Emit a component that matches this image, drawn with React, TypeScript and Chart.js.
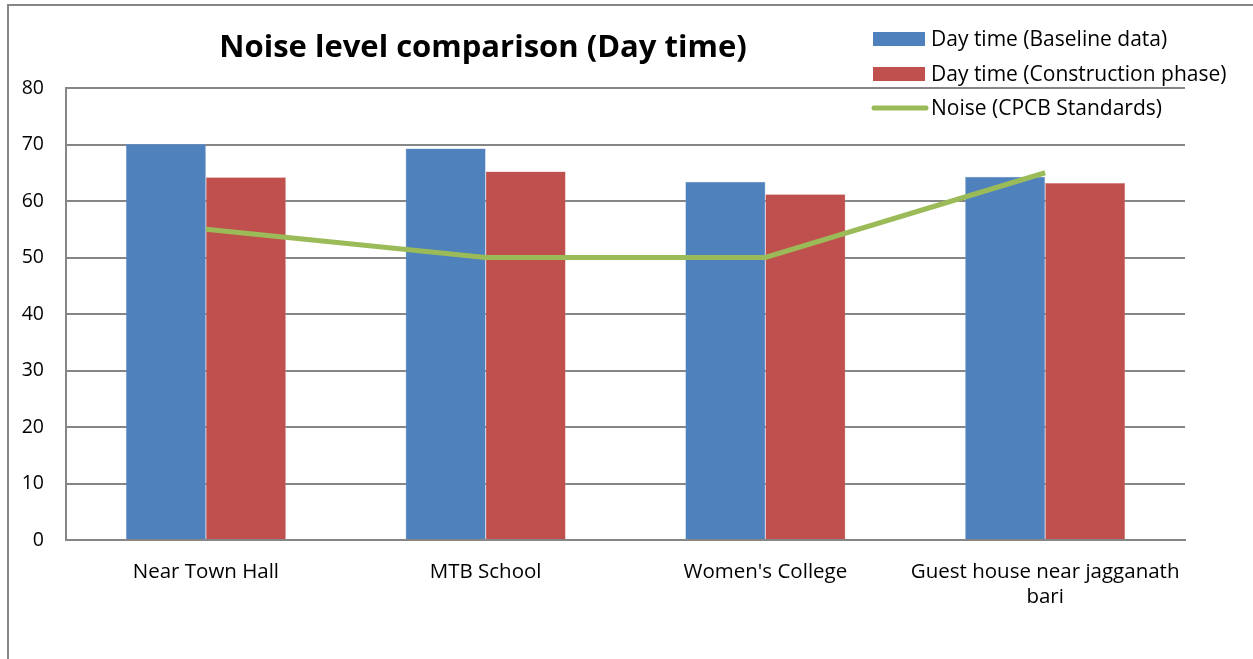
import React, { useEffect, useRef } from "react";
import { Chart, registerables } from "chart.js";

Chart.register(...registerables);

const categories: (string | string[])[] = [
  "Near Town Hall",
  "MTB School",
  "Women's College",
  ["Guest house near jagganath", "bari"],
];
const baseline = [70.1, 69.3, 63.4, 64.3];
const construction = [64.2, 65.2, 61.2, 63.2];
const cpcb = [55, 50, 50, 65];
const yTicks = [0, 10, 20, 30, 40, 50, 60, 70, 80];

const seriesNames = [
  "Day time (Baseline data)",
  "Day time (Construction phase)",
  "Noise (CPCB Standards)",
];
const titleText = "Noise level comparison (Day time)";

const BLUE = "#4F81BD";
const RED = "#C0504D";
const GREEN = "#9BBB59";
const GRID = "#868686";
const FONT = "'Open Sans', 'Noto Sans', sans-serif";

const overlayPlugin = {
  id: "overlay",
  afterDraw(chart: any) {
    const ctx = chart.ctx;
    const area = chart.chartArea;
    ctx.save();
    // title
    ctx.fillStyle = "#000";
    ctx.font = `bold 31px ${FONT}`;
    ctx.textAlign = "center";
    ctx.textBaseline = "middle";
    ctx.fillText(titleText, area.left + 417, 48);
    // legend
    const lx = area.right - 312;
    const rows = [39, 74, 108];
    ctx.font = `21px ${FONT}`;
    ctx.textAlign = "left";
    ctx.textBaseline = "middle";
    ctx.fillStyle = BLUE;
    ctx.fillRect(lx, rows[0] - 7, 52, 14);
    ctx.fillStyle = RED;
    ctx.fillRect(lx, rows[1] - 7, 52, 14);
    ctx.strokeStyle = GREEN;
    ctx.lineWidth = 5;
    ctx.lineCap = "round";
    ctx.beginPath();
    ctx.moveTo(lx + 1, rows[2]);
    ctx.lineTo(lx + 53, rows[2]);
    ctx.stroke();
    ctx.fillStyle = "#000";
    seriesNames.forEach((n, i) => ctx.fillText(n, lx + 58, rows[i] + 1));
    ctx.restore();
  },
};

export default function App() {
  const ref = useRef<HTMLCanvasElement | null>(null);
  useEffect(() => {
    if (!ref.current) return;
    const chart = new Chart(ref.current, {
      type: "bar",
      data: {
        labels: categories as any,
        datasets: [
          {
            type: "line",
            label: seriesNames[2],
            data: cpcb,
            borderColor: GREEN,
            backgroundColor: GREEN,
            borderWidth: 5,
            pointRadius: 0,
            tension: 0,
            order: 0,
          } as any,
          {
            label: seriesNames[0],
            data: baseline,
            backgroundColor: BLUE,
            borderColor: "#7FA3D1",
            borderWidth: 0.5,
            categoryPercentage: 0.572,
            barPercentage: 1,
            order: 1,
          },
          {
            label: seriesNames[1],
            data: construction,
            backgroundColor: RED,
            borderColor: "#D98A88",
            borderWidth: 0.5,
            categoryPercentage: 0.572,
            barPercentage: 1,
            order: 2,
          },
        ],
      },
      options: {
        animation: false,
        responsive: false,
        maintainAspectRatio: false,
        layout: { padding: { left: 0, right: 68, top: 88, bottom: 0 } },
        plugins: {
          legend: { display: false },
          title: { display: false },
          tooltip: { enabled: false },
        },
        scales: {
          x: {
            grid: { display: false, drawTicks: false },
            border: { display: true, color: GRID, width: 2 },
            ticks: {
              color: "#000",
              font: { family: FONT, size: 20.5, lineHeight: 1.22 },
              padding: 20,
              maxRotation: 0,
              autoSkip: false,
            },
            afterFit(scale: any) {
              scale.height = 119;
            },
          },
          y: {
            min: 0,
            max: 80,
            afterBuildTicks(scale: any) {
              scale.ticks = yTicks.map((v) => ({ value: v }));
            },
            grid: { color: GRID, lineWidth: 2, drawTicks: false },
            border: { display: true, color: GRID, width: 2 },
            ticks: {
              color: "#000",
              font: { family: FONT, size: 19.5 },
              padding: 22,
            },
            afterFit(scale: any) {
              scale.width = 66;
            },
          },
        },
      },
      plugins: [overlayPlugin],
    });
    return () => chart.destroy();
  }, []);

  return (
    <div
      style={{
        position: "absolute",
        left: 0,
        top: 0,
        width: 1253,
        height: 659,
        overflow: "hidden",
        background: "#fff",
      }}
    >
      <canvas
        ref={ref}
        width={1253}
        height={659}
        style={{ position: "absolute", left: 0, top: 0, width: 1253, height: 659 }}
      />
      <div
        style={{
          position: "absolute",
          left: 7,
          top: 4,
          width: 1300,
          height: 700,
          border: `2px solid ${GRID}`,
          pointerEvents: "none",
        }}
      />
    </div>
  );
}
